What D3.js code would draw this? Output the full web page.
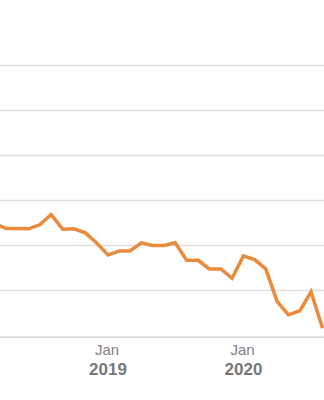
<html>
  <head>
    <meta charset="utf-8">
    <style>
      body { margin: 0; background: #fff; }
      .grid line { stroke: #dedede; stroke-width: 1.5px; }
      .baseline { stroke: #d6d6d6; stroke-width: 1.5px; }
      .line { fill: none; stroke: #ea8a3c; stroke-width: 3.5px; stroke-linejoin: miter; }
      .tick-month { font-family: "Liberation Sans Narrow", "Liberation Sans", Arial, sans-serif; font-size: 15px; fill: #808080; }
      .tick-year { font-family: "Liberation Sans Narrow", "Liberation Sans", Arial, sans-serif; font-size: 17px; font-weight: bold; fill: #777; }
    </style>
  </head>
<body>
  <svg width="324" height="400"></svg>
  <script src="https://d3js.org/d3.v7.min.js"></script>
  <script>
    // monthly series, Mar 2018 .. Aug 2020
    var months = ["2018-03", "2018-04", "2018-05", "2018-06", "2018-07", "2018-08", "2018-09", "2018-10",
                  "2018-11", "2018-12", "2019-01", "2019-02", "2019-03", "2019-04", "2019-05", "2019-06",
                  "2019-07", "2019-08", "2019-09", "2019-10", "2019-11", "2019-12", "2020-01", "2020-02",
                  "2020-03", "2020-04", "2020-05", "2020-06", "2020-07", "2020-08"];
    var values = [24.9, 23.8, 23.8, 23.7, 24.6, 26.9, 23.6, 23.7,
                  22.8, 20.6, 17.9, 18.8, 18.8, 20.6, 20.0, 20.0,
                  20.6, 16.7, 16.7, 14.8, 14.8, 12.7, 17.7, 16.8,
                  14.8, 7.5, 4.6, 5.5, 9.7, 1.6];
    var gridValues = [10, 20, 30, 40, 50, 60];
    var tickDates = ["2019-01", "2020-01"];

    var parse = d3.timeParse("%Y-%m");
    var data = months.map(function(m, i) { return {date: parse(m), value: values[i]}; });

    var svg = d3.select("svg");

    var x = d3.scaleTime()
      .domain([parse("2019-01"), parse("2020-01")])
      .range([108, 243.5]);

    var y = d3.scaleLinear()
      .domain([-0.4, 60])
      .range([337.3, 65.5]);

    var width = +svg.attr("width");

    svg.append("g")
        .attr("class", "grid")
      .selectAll("line")
      .data(gridValues)
      .join("line")
        .attr("x1", 0)
        .attr("x2", width)
        .attr("y1", function(d) { return y(d); })
        .attr("y2", function(d) { return y(d); });

    svg.append("line")
      .attr("class", "baseline")
      .attr("x1", 0)
      .attr("x2", width)
      .attr("y1", y(-0.4))
      .attr("y2", y(-0.4));

    var line = d3.line()
      .x(function(d) { return x(d.date); })
      .y(function(d) { return y(d.value); });

    svg.append("path")
      .datum(data)
      .attr("class", "line")
      .attr("d", line);

    var ticks = svg.append("g")
      .selectAll("g")
      .data(tickDates.map(parse))
      .join("g")
        .attr("transform", function(d) { return "translate(" + (x(d) - 1) + "," + y(-0.4) + ")"; });

    ticks.append("text")
      .attr("class", "tick-month")
      .attr("text-anchor", "middle")
      .attr("y", 18.2)
      .text(d3.timeFormat("%b"));

    ticks.append("text")
      .attr("class", "tick-year")
      .attr("text-anchor", "middle")
      .attr("x", 1)
      .attr("y", 37.7)
      .text(d3.timeFormat("%Y"));
  </script>
  </body>
</html>
